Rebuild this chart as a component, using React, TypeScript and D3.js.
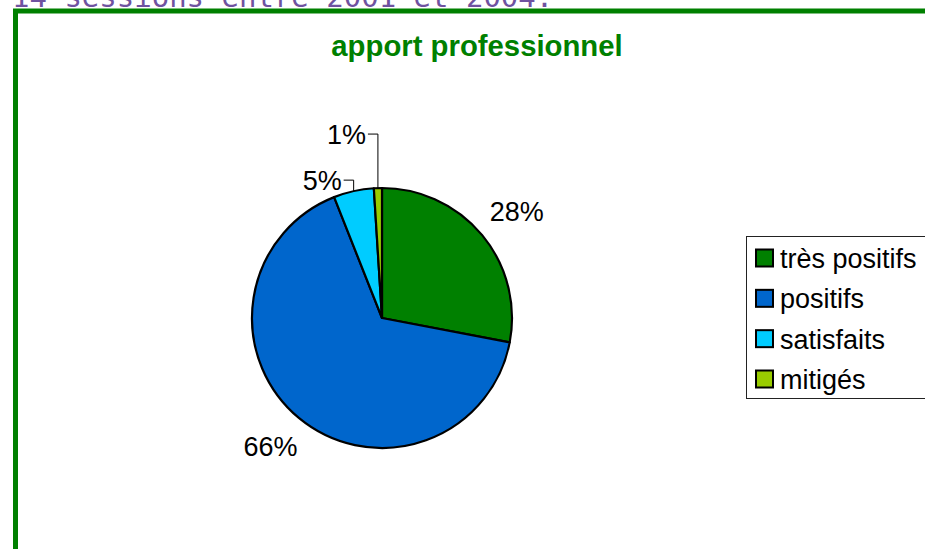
import React from "react";
import * as d3 from "d3";

const categories = ["très positifs", "positifs", "satisfaits", "mitigés"];
const values = [28, 66, 5, 1];
const labelTexts = ["28%", "66%", "5%", "1%"];
const colors = ["#008000", "#0066CC", "#00CCFF", "#99CC00"];
const headerText = "14 sessions entre 2001 et 2004.";
const titleText = "apport professionnel";

const W = 925;
const H = 549;
const cx = 382;
const cy = 318;
const R = 130;

export default function App() {
  const pie = d3.pie<number>().sort(null).value((d) => d);
  const arcs = pie(values);
  const arcGen = d3.arc<d3.PieArcDatum<number>>().innerRadius(0).outerRadius(R);
  const legendY = d3.scalePoint<string>().domain(categories).range([258, 379]);

  // label placement config: leader lines for small slices
  const leaderRise = [0, 0, 11, 54];
  const font = "'Liberation Sans', Arial, sans-serif";

  return (
    <svg
      width={W}
      height={H}
      style={{ position: "absolute", left: 0, top: 0, background: "#fff" }}
    >
      <text
        x={12}
        y={7}
        fontFamily="'DejaVu Sans Mono', monospace"
        fontSize={29}
        fill="#6f52a0"
      >
        {headerText}
      </text>
      <line x1={15.5} y1={9} x2={15.5} y2={H} stroke="#008000" strokeWidth={5} />
      <line x1={13} y1={11} x2={W} y2={11} stroke="#008000" strokeWidth={5} />
      <text
        x={477}
        y={56}
        textAnchor="middle"
        fontFamily={font}
        fontWeight="bold"
        fontSize={29.3}
        fill="#008000"
      >
        {titleText}
      </text>
      <g transform={`translate(${cx},${cy})`}>
        {arcs.map((a, i) => (
          <path
            key={i}
            d={arcGen(a) || ""}
            fill={colors[i]}
            stroke="#000"
            strokeWidth={2.2}
            strokeLinejoin="round"
          />
        ))}
        {arcs.map((a, i) => {
          const mid = (a.startAngle + a.endAngle) / 2;
          if (leaderRise[i] === 0) {
            const x = 175 * Math.sin(mid);
            const y = -167 * Math.cos(mid);
            return (
              <text
                key={i}
                x={x}
                y={y}
                textAnchor="middle"
                dominantBaseline="central"
                fontFamily={font}
                fontSize={27}
                fill="#000"
              >
                {labelTexts[i]}
              </text>
            );
          }
          const px = R * Math.sin(mid);
          const py = -R * Math.cos(mid);
          const ey = py - leaderRise[i];
          const ex = px - 10;
          return (
            <g key={i}>
              <polyline
                points={`${px},${py} ${px},${ey} ${ex},${ey}`}
                fill="none"
                stroke="#000"
                strokeWidth={1}
              />
              <text
                x={ex - 2}
                y={ey + 1}
                textAnchor="end"
                dominantBaseline="central"
                fontFamily={font}
                fontSize={27}
                fill="#000"
              >
                {labelTexts[i]}
              </text>
            </g>
          );
        })}
      </g>
      <rect x={746.5} y={236.5} width={200} height={162} fill="#fff" stroke="#222" strokeWidth={1} />
      {categories.map((c, i) => {
        const y = legendY(c) || 0;
        return (
          <g key={c}>
            <rect x={756} y={y - 8.5} width={17} height={17} fill={colors[i]} stroke="#000" strokeWidth={2} />
            <text
              x={780}
              y={y + 1}
              dominantBaseline="central"
              fontFamily={font}
              fontSize={27}
              fill="#000"
            >
              {c}
            </text>
          </g>
        );
      })}
    </svg>
  );
}
